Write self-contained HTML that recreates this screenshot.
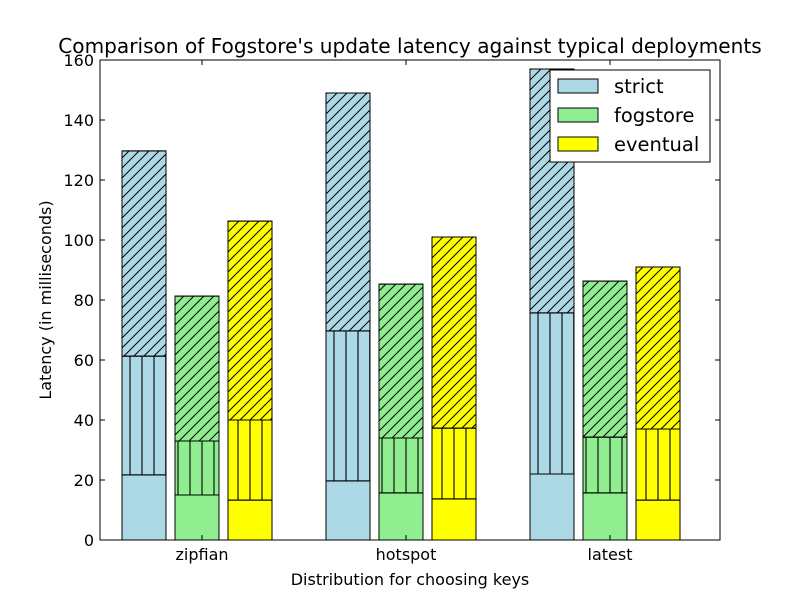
<!DOCTYPE html>
<html><head><meta charset="utf-8"><style>body{margin:0;background:#fff}svg{font-family:"DejaVu Sans","Liberation Sans",sans-serif}</style></head>
<body>
<svg id="chart" width="800" height="600">
<defs>
<pattern id="diag" patternUnits="userSpaceOnUse" width="10" height="10"><path d="M-2,12 L12,-2 M-2,2 L2,-2 M8,12 L12,8" stroke="#000" stroke-width="1"/></pattern>
<pattern id="vert" patternUnits="userSpaceOnUse" width="12" height="12" x="4"><path d="M6,0 V12" stroke="rgba(0,0,0,0.55)" stroke-width="2"/></pattern>
</defs>
<rect width="800" height="600" fill="#fff"/>
<text x="410" y="53" font-size="20.1" text-anchor="middle">Comparison of Fogstore's update latency against typical deployments</text>
<g id="bars"></g>
<rect x="100" y="60" width="620" height="480" fill="none" stroke="#000"/>
<g id="axes"></g>
<text x="410" y="585" font-size="16" text-anchor="middle">Distribution for choosing keys</text>
<text transform="translate(51,300) rotate(-90)" font-size="16" text-anchor="middle">Latency (in milliseconds)</text>
<g>
<rect x="550" y="70" width="160" height="92" fill="#fff" stroke="#000"/>
<rect x="558" y="79" width="40" height="14" fill="#add8e6" stroke="#000"/>
<text x="614" y="93" font-size="19.5">strict</text>
<rect x="558" y="108" width="40" height="14" fill="#90ee90" stroke="#000"/>
<text x="614" y="122" font-size="19.5">fogstore</text>
<rect x="558" y="137" width="40" height="14" fill="#ffff00" stroke="#000"/>
<text x="614" y="151" font-size="19.5">eventual</text>
</g>
</svg>
<script>
const categories = ["zipfian","hotspot","latest"];
const seriesNames = ["strict","fogstore","eventual"];
const bottomVals = [[21.7,19.7,22],[15,15.7,15.7],[13.3,13.7,13.3]];
const middleVals = [[61.3,69.7,75.7],[33,34,34.3],[40,37.3,37]];
const topVals = [[129.7,149,157],[81.3,85.3,86.3],[106.3,101,91]];
const yTicks = [0,20,40,60,80,100,120,140,160];
const colors = ["#add8e6","#90ee90","#ffff00"];
const NS="http://www.w3.org/2000/svg";
const y = v => 540 - v*3;
const xCenter = i => 202 + i*204;
const offsets = [-80,-27,26];
const bw = 44;
function mk(tag, attrs, parent){const e=document.createElementNS(NS,tag);for(const k in attrs)e.setAttribute(k,attrs[k]);parent.appendChild(e);return e;}
const bars=document.getElementById("bars"), axes=document.getElementById("axes");
categories.forEach((c,i)=>{
  seriesNames.forEach((s,j)=>{
    const x = xCenter(i)+offsets[j];
    const segs=[[0,bottomVals[j][i],null,"bottom"],[bottomVals[j][i],middleVals[j][i],"url(#vert)","middle"],[middleVals[j][i],topVals[j][i],"url(#diag)","top"]];
    segs.forEach(sg=>{
      let r=mk("rect",{x:x,y:y(sg[1]),width:bw,height:y(sg[0])-y(sg[1]),fill:colors[j],stroke:"#000"},bars);
      
      
      if(sg[2]){let h=mk("rect",{x:x,y:y(sg[1]),width:bw,height:y(sg[0])-y(sg[1]),fill:sg[2],stroke:"#000"},bars);
        
        }
    });
  });
  mk("line",{x1:xCenter(i),x2:xCenter(i),y1:540,y2:535,stroke:"#000"},axes);
  mk("line",{x1:xCenter(i),x2:xCenter(i),y1:60,y2:65,stroke:"#000"},axes);
  let t=mk("text",{x:xCenter(i),y:560,"font-size":16,"text-anchor":"middle"},axes);t.textContent=c;
  
  
});
yTicks.forEach(v=>{
  mk("line",{x1:100,x2:105,y1:y(v),y2:y(v),stroke:"#000"},axes);
  mk("line",{x1:715,x2:720,y1:y(v),y2:y(v),stroke:"#000"},axes);
  let t=mk("text",{x:94,y:y(v)+6,"font-size":16,"text-anchor":"end"},axes);t.textContent=v;
  
  
});
</script>
</body></html>
